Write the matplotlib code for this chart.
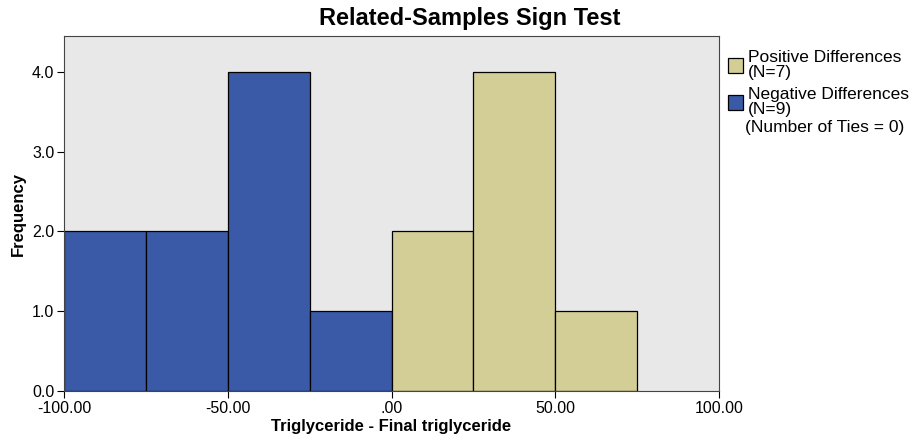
import numpy as np
import matplotlib
matplotlib.use('Agg')
import matplotlib.pyplot as plt
from matplotlib.patches import Rectangle

plt.rcParams['font.family'] = ['Liberation Sans', 'DejaVu Sans']

# histogram bins (difference values) and counts
bin_edges = [-100, -75, -50, -25, 0, 25, 50, 75]
counts = [2, 2, 4, 1, 2, 4, 1]
signs = ['neg', 'neg', 'neg', 'neg', 'pos', 'pos', 'pos']
xticks = [-100, -50, 0, 50, 100]
xtick_labels = ['-100.00', '-50.00', '.00', '50.00', '100.00']
yticks = [0, 1, 2, 3, 4]
ytick_labels = ['0.0', '1.0', '2.0', '3.0', '4.0']
n_pos = 7
n_neg = 9
n_ties = 0

c_neg = '#3a5aa8'
c_pos = '#d3cd96'

fig = plt.figure(figsize=(9.22, 4.44), dpi=100, facecolor='w')
ax = fig.add_axes([64 / 922, 1 - 391 / 444, (719 - 64) / 922, (391 - 36) / 444])
ax.set_facecolor('#e8e8e8')

for i, c in enumerate(counts):
    ax.bar(bin_edges[i], c, width=bin_edges[i + 1] - bin_edges[i], align='edge',
           color=c_neg if signs[i] == 'neg' else c_pos, edgecolor='k', linewidth=0.9)

ax.set_xlim(-100, 100)
ax.set_ylim(0, 4.45)
ax.set_xticks(xticks)
ax.set_xticklabels(xtick_labels, fontsize=11.5)
ax.set_yticks(yticks)
ax.set_yticklabels(ytick_labels, fontsize=11.5)
ax.tick_params(direction='out', length=5, width=0.8, pad=2)
for s in ax.spines.values():
    s.set_linewidth(0.8)
    s.set_color('#444444')

ax.set_xlabel('Triglyceride - Final triglyceride', fontsize=12, fontweight='bold', labelpad=2)
ax.set_ylabel('Frequency', fontsize=12, fontweight='bold', labelpad=4)
fig.text(470 / 922, 1 - 19 / 444, 'Related-Samples Sign Test', fontsize=17,
         fontweight='bold', ha='center', va='center')

# legend, drawn by hand
for yc, col, lab1, lab2 in [(66, c_pos, 'Positive Differences', '(N=%d)' % n_pos),
                            (103, c_neg, 'Negative Differences', '(N=%d)' % n_neg)]:
    fig.patches.append(Rectangle((728 / 922, 1 - (yc + 7) / 444), 15 / 922, 15 / 444,
                                 transform=fig.transFigure, facecolor=col,
                                 edgecolor='k', linewidth=0.9))
    fig.text(748 / 922, 1 - (yc - 9) / 444, lab1, fontsize=12.5, va='center', ha='left')
    fig.text(748 / 922, 1 - (yc + 6) / 444, lab2, fontsize=12.5, va='center', ha='left')
fig.text(745 / 922, 1 - 127 / 444, '(Number of Ties = %d)' % n_ties, fontsize=12.5,
         va='center', ha='left')

fig.savefig('out.png', dpi=100)
